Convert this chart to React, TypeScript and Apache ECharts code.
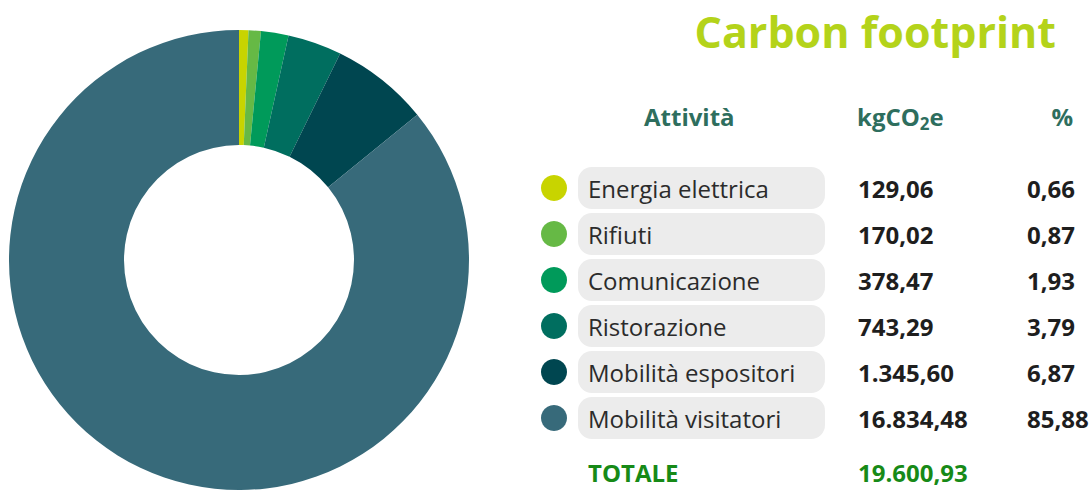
import React, { useEffect, useRef } from "react";
import * as echarts from "echarts";

const categories = ["Energia elettrica", "Rifiuti", "Comunicazione", "Ristorazione", "Mobilità espositori", "Mobilità visitatori"];
const values = [129.06, 170.02, 378.47, 743.29, 1345.6, 16834.48];
const valueLabels = ["129,06", "170,02", "378,47", "743,29", "1.345,60", "16.834,48"];
const percentLabels = ["0,66", "0,87", "1,93", "3,79", "6,87", "85,88"];
const colors = ["#c8d400", "#66b945", "#009a5a", "#006e5f", "#004650", "#376a7a"];
const totalLabel = "19.600,93";

const FONT = "'Open Sans', 'Noto Sans', sans-serif";

export default function App() {
  const ref = useRef<HTMLDivElement>(null);
  useEffect(() => {
    if (!ref.current) return;
    const chart = echarts.init(ref.current, undefined, { renderer: "svg" });
    const rowY0 = 188;
    const rowStep = 46;
    const graphic: any[] = [
      {
        type: "text",
        x: 1056,
        y: 31,
        style: { text: "Carbon footprint", font: `bold 43px ${FONT}`, fill: "#b4d31a", align: "right", verticalAlign: "middle" },
      },
      {
        type: "text",
        x: 644,
        y: 116,
        style: { text: "Attività", font: `bold 24px ${FONT}`, fill: "#2e6e5e", verticalAlign: "middle" },
      },
      {
        type: "text",
        x: 857,
        y: 116,
        style: {
          text: "{m|kgCO}{s|2}{m|e}",
          verticalAlign: "middle",
          rich: {
            m: { font: `bold 24px ${FONT}`, fill: "#2e6e5e" },
            s: { font: `bold 17px ${FONT}`, fill: "#2e6e5e", padding: [14, 0, 0, 0] },
          },
        },
      },
      {
        type: "text",
        x: 1073,
        y: 116,
        style: { text: "%", font: `bold 24px ${FONT}`, fill: "#2e6e5e", align: "right", verticalAlign: "middle" },
      },
    ];
    categories.forEach((c, i) => {
      const y = rowY0 + i * rowStep;
      graphic.push(
        { type: "rect", shape: { x: 578, y: y - 21, width: 247, height: 42, r: 14 }, style: { fill: "#ececec" } },
        { type: "circle", shape: { cx: 554, cy: y, r: 13 }, style: { fill: colors[i] } },
        { type: "text", x: 588, y, style: { text: c, font: `24px ${FONT}`, fill: "#2b2b2b", verticalAlign: "middle" } },
        { type: "text", x: 858, y, style: { text: valueLabels[i], font: `bold 24px ${FONT}`, fill: "#1e1e1e", verticalAlign: "middle" } },
        { type: "text", x: 1027, y, style: { text: percentLabels[i], font: `bold 24px ${FONT}`, fill: "#1e1e1e", verticalAlign: "middle" } }
      );
    });
    graphic.push(
      { type: "text", x: 588, y: 472, style: { text: "TOTALE", font: `bold 24px ${FONT}`, fill: "#178a17", verticalAlign: "middle" } },
      { type: "text", x: 858, y: 472, style: { text: totalLabel, font: `bold 24px ${FONT}`, fill: "#178a17", verticalAlign: "middle" } }
    );
    chart.setOption({
      animation: false,
      graphic,
      series: [
        {
          type: "pie",
          center: [239, 260],
          radius: [115, 230],
          startAngle: 90,
          clockwise: true,
          label: { show: false },
          labelLine: { show: false },
          emphasis: { disabled: true },
          itemStyle: { borderWidth: 0 },
          data: categories.map((c, i) => ({ name: c, value: values[i], itemStyle: { color: colors[i] } })),
        },
      ],
    });
    return () => chart.dispose();
  }, []);
  return <div ref={ref} style={{ width: 1091, height: 501, position: "absolute", left: 0, top: 0 }} />;
}
